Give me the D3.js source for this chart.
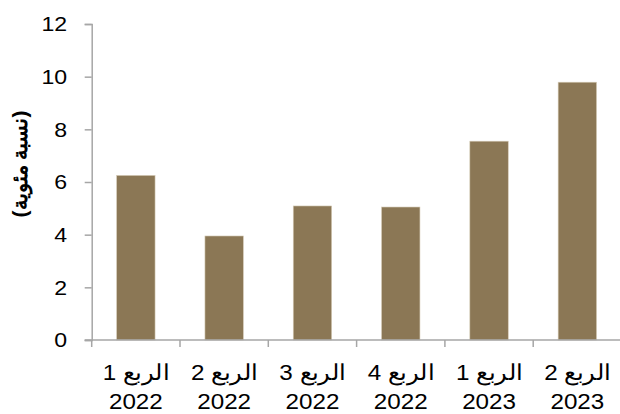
<!DOCTYPE html>
<html lang="ar">
<head>
<meta charset="utf-8"/>
<script src="https://d3js.org/d3.v7.min.js"></script>
<style>
  body { margin: 0; background: #fff; }
  text { font-family: "Liberation Sans", Arial, sans-serif; fill: #000; }
  .axis path, .axis line { stroke: #a6a6a6; stroke-width: 1.5px; }
</style>
</head>
<body>
<svg id="chart" width="620" height="414"></svg>
<script>
// quarters (line 1) and years (line 2) for the x axis
const quarters = ["الربع 1", "الربع 2", "الربع 3", "الربع 4", "الربع 1", "الربع 2"];
const years = ["2022", "2022", "2022", "2022", "2023", "2023"];
const values = [6.25, 3.95, 5.09, 5.05, 7.55, 9.79];
const yTicks = [0, 2, 4, 6, 8, 10, 12];
const yTitle = "(نسبة مئوية)";

const svg = d3.select("#chart");
const plotLeft = 91.7, plotRight = 621.5, plotTop = 24, plotBottom = 340;
const stretch = 1.1; // text in the picture is a bit wider than plain Arial

const x = d3.scaleBand()
  .domain(d3.range(values.length))
  .range([plotLeft, plotRight])
  .paddingInner(0.565)
  .paddingOuter(0.2825);

const y = d3.scaleLinear().domain([0, 12]).range([plotBottom, plotTop]);

// bars
svg.append("g").selectAll("rect")
  .data(values)
  .enter()
  .append("rect")
  .attr("x", (d, i) => x(i))
  .attr("y", d => y(d))
  .attr("width", x.bandwidth())
  .attr("height", d => y(0) - y(d))
  .style("fill", "#8b7755")
  .style("stroke", "#d6ccb8")
  .style("stroke-width", 0.6);

// y axis
const yAxis = svg.append("g")
  .attr("class", "axis")
  .attr("transform", "translate(" + plotLeft + ",0)")
  .call(d3.axisLeft(y).tickValues(yTicks).tickSize(7));
yAxis.selectAll(".tick text")
  .attr("x", 0)
  .attr("transform", "translate(-24.5,0) scale(" + stretch + ",1)")
  .style("font-size", "21px");

// x axis with ticks between categories
const step = x.step();
const xAxis = svg.append("g")
  .attr("class", "axis")
  .attr("transform", "translate(0," + plotBottom + ")");
xAxis.append("line")
  .attr("x1", plotLeft - 7).attr("x2", 620)
  .attr("y1", 0).attr("y2", 0);
xAxis.selectAll(".tk")
  .data(d3.range(values.length + 1))
  .enter()
  .append("line")
  .attr("class", "tk")
  .attr("x1", i => plotLeft + i * step)
  .attr("x2", i => plotLeft + i * step)
  .attr("y1", 0).attr("y2", 7);

const labels = svg.append("g").selectAll("text")
  .data(quarters)
  .enter()
  .append("text")
  .attr("transform", (d, i) => "translate(" + (x(i) + x.bandwidth() / 2) + ",380) scale(" + stretch + ",1)")
  .attr("text-anchor", "middle")
  .style("font-size", "22px");
labels.append("tspan").attr("x", 0).text(d => d);
labels.append("tspan")
  .attr("x", 0)
  .attr("dy", 29)
  .text((d, i) => years[i]);

// y title
svg.append("text")
  .attr("transform", "translate(27,164) rotate(-90)")
  .attr("text-anchor", "middle")
  .style("font-size", "21px")
  .style("font-weight", "bold")
  .text(yTitle);
</script>
</body>
</html>
